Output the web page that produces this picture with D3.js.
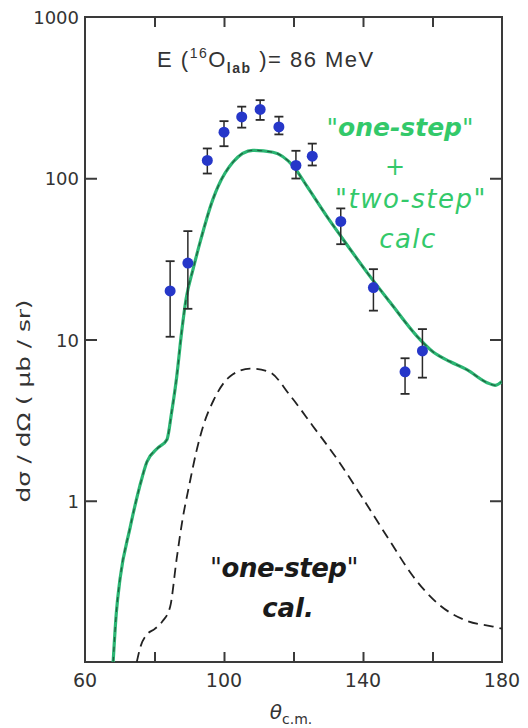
<!DOCTYPE html>
<html>
<head>
<meta charset="utf-8">
<script src="https://cdn.jsdelivr.net/npm/d3@7"></script>
<style>
  html, body { margin: 0; padding: 0; background: #fff; }
  svg { display: block; }
</style>
</head>
<body>
<svg id="chart" width="528" height="728"></svg>
<script>
// ---- data ----
const expTheta = [84.5, 89.6, 95.2, 100.0, 105.1, 110.4, 115.8, 120.7, 125.4, 133.6, 143.0, 152.1, 157.1];
const expSigma = [20, 29.8, 129, 193, 240, 267, 208, 120, 137, 54, 21, 6.3, 8.5];
const expErrLow = [10.4, 15.5, 107, 158, 206, 230, 187, 99.6, 120, 39, 15.1, 4.6, 5.8];
const expErrHigh = [30.6, 47, 153, 226, 278, 305, 241, 148, 164, 65, 27.3, 7.65, 11.6];

const totalTheta = [68.1, 69.0, 70.1, 72.9, 75.8, 77.8, 80.7, 83.6, 84.9, 86.4, 87.8, 89.1, 91.1, 93.1, 96.8, 98.3, 102.6, 108.3, 114.1, 119.9, 123.9, 129.6, 134.2, 141.2, 147.8, 155.5, 160.1, 165.0, 169.9, 175.7, 178.0, 180.0];
const totalSigma = [0.1, 0.2, 0.33, 0.67, 1.24, 1.74, 2.1, 2.4, 3.5, 5.9, 11.1, 17.9, 27.3, 40, 74, 89, 126, 149, 145, 119, 89, 58, 42, 26, 17, 10.5, 8.4, 7.3, 6.5, 5.4, 5.2, 5.5];

const oneTheta = [74.9, 76.0, 77.8, 80.0, 82.4, 84.5, 86.4, 88.0, 90.0, 92.0, 94.0, 97.0, 101.7, 107.5, 113.0, 119.0, 125.6, 132.5, 140.0, 147.8, 154.4, 162.2, 169.9, 177.4, 180.0];
const oneSigma = [0.1, 0.125, 0.148, 0.16, 0.18, 0.22, 0.44, 0.75, 1.25, 2.0, 2.9, 4.2, 5.9, 6.6, 6.3, 4.5, 2.9, 1.82, 1.03, 0.56, 0.34, 0.224, 0.18, 0.166, 0.161];

const xTicks = [60, 80, 100, 120, 140, 160, 180];
const xTickLabels = [60, 100, 140, 180];
const yTicks = [1, 10, 100, 1000];
const yTickLabels = ["1", "10", "100", "1000"];

// ---- layout ----
const svg = d3.select("#chart");
const L = 85, R = 502, T = 17, B = 662;
const x = d3.scaleLinear().domain([60, 180]).range([L, R]);
const y = d3.scaleLog().domain([0.1, 1000]).range([B, T]);

const axisColor = "#3a3a3a";
const green = "#2bb673";
const greenText = "#33c96a";
const sans = "DejaVu Sans, Verdana, sans-serif";

svg.append("defs").append("clipPath").attr("id", "plotclip")
  .append("rect").attr("x", L).attr("y", T).attr("width", R - L).attr("height", B - T);

// frame
svg.append("rect").attr("x", L).attr("y", T).attr("width", R - L).attr("height", B - T)
  .attr("fill", "none").attr("stroke", axisColor).attr("stroke-width", 2);

// axes with inward ticks
const innerX = xTicks.filter(d => d > 60 && d < 180);
const innerY = yTicks.filter(d => d > 0.1 && d < 1000);
const bottomAxis = d3.axisBottom(x).tickValues(innerX).tickSize(-10).tickFormat("");
const topAxis = d3.axisTop(x).tickValues(innerX).tickSize(-10).tickFormat("");
const leftAxis = d3.axisLeft(y).tickValues(innerY).tickSize(-12).tickFormat("");
const rightAxis = d3.axisRight(y).tickValues(innerY).tickSize(-12).tickFormat("");
[[bottomAxis, `translate(0,${B})`], [topAxis, `translate(0,${T})`], [leftAxis, `translate(${L},0)`], [rightAxis, `translate(${R},0)`]]
  .forEach(([ax, tr]) => {
    const g = svg.append("g").attr("transform", tr).call(ax);
    g.select(".domain").remove();
    g.selectAll(".tick line").attr("stroke", axisColor).attr("stroke-width", 2);
  });

// tick labels
svg.append("g").selectAll("text").data(xTickLabels).join("text")
  .attr("x", d => x(d)).attr("y", B + 25)
  .attr("text-anchor", "middle")
  .attr("font-family", sans).attr("font-size", 19).attr("fill", "#333")
  .text(d => d);
svg.append("g").selectAll("text").data(yTicks).join("text")
  .attr("x", L - 6).attr("y", d => y(d) + 7)
  .attr("text-anchor", "end")
  .attr("font-family", sans).attr("font-size", 18).attr("fill", "#333")
  .text((d, i) => yTickLabels[i]);

// axis titles
const xt = svg.append("text").attr("x", 291).attr("y", 719).attr("text-anchor", "middle")
  .attr("font-family", sans).attr("fill", "#333");
xt.append("tspan").attr("font-size", 20).attr("font-style", "italic").text("θ");
xt.append("tspan").attr("font-size", 14).attr("dy", 5).text("c.m.");

svg.append("text").attr("transform", "translate(30,401) rotate(-90)").attr("text-anchor", "middle")
  .attr("font-family", sans).attr("font-size", 18).attr("fill", "#333")
  .attr("textLength", 203).attr("lengthAdjust", "spacingAndGlyphs")
  .text("dσ / dΩ ( μb / sr)");

// curves
const plot = svg.append("g").attr("clip-path", "url(#plotclip)");
const line = d3.line().x(d => x(d[0])).y(d => y(d[1])).curve(d3.curveMonotoneX);
const totalPts = totalTheta.map((t, i) => [t, totalSigma[i]]);
const onePts = oneTheta.map((t, i) => [t, oneSigma[i]]);

plot.append("path").datum(totalPts).attr("d", line)
  .attr("fill", "none").attr("stroke", green).attr("stroke-width", 3.2);
plot.append("path").datum(totalPts).attr("d", line)
  .attr("fill", "none").attr("stroke", "#1d3a2a").attr("stroke-width", 1.2).attr("stroke-dasharray", "5,5").attr("opacity", 0.7);
plot.append("path").datum(onePts).attr("d", line)
  .attr("fill", "none").attr("stroke", "#222").attr("stroke-width", 1.8).attr("stroke-dasharray", "10,6");

// experimental points
const pts = plot.append("g");
expTheta.forEach((t, i) => {
  const cx = x(t);
  pts.append("line").attr("x1", cx).attr("x2", cx).attr("y1", y(expErrLow[i])).attr("y2", y(expErrHigh[i]))
    .attr("stroke", "#2a2a2a").attr("stroke-width", 1.5);
  [expErrLow[i], expErrHigh[i]].forEach(v => {
    pts.append("line").attr("x1", cx - 4.5).attr("x2", cx + 4.5).attr("y1", y(v)).attr("y2", y(v))
      .attr("stroke", "#2a2a2a").attr("stroke-width", 1.8);
  });
});
pts.selectAll("circle").data(expTheta).join("circle")
  .attr("cx", d => x(d)).attr("cy", (d, i) => y(expSigma[i])).attr("r", 5.5)
  .attr("fill", "#2637c9");

// annotations
const e = svg.append("text").attr("x", 157).attr("y", 67)
  .attr("font-family", "Liberation Sans, Arial, sans-serif").attr("font-size", 22).attr("fill", "#333")
  .attr("letter-spacing", 1.5);
e.append("tspan").text("E (");
e.append("tspan").attr("font-size", 14).attr("dy", -9).text("16");
e.append("tspan").attr("dy", 9).text("O");
e.append("tspan").attr("font-size", 14).attr("font-weight", "bold").attr("dy", 6).text("lab");
e.append("tspan").attr("dy", -6).text(" )= 86 MeV");

function quoted(xc, yb, word, color, weight, size, ls) {
  const t = svg.append("text").attr("x", xc).attr("y", yb).attr("text-anchor", "middle")
    .attr("font-family", sans).attr("font-size", size).attr("fill", color).attr("letter-spacing", ls);
  t.append("tspan").attr("font-weight", "normal").text("\"");
  t.append("tspan").attr("font-style", "italic").attr("font-weight", weight).text(word);
  t.append("tspan").attr("font-weight", "normal").text("\"");
  return t;
}
quoted(400, 136, "one-step", greenText, "bold", 25, 0);
svg.append("text").attr("x", 395).attr("y", 175).attr("text-anchor", "middle")
  .attr("font-family", sans).attr("font-size", 24).attr("fill", greenText).text("+");
quoted(411, 208, "two-step", greenText, "normal", 26, 1.5);
svg.append("text").attr("x", 408).attr("y", 248).attr("text-anchor", "middle")
  .attr("font-family", sans).attr("font-style", "italic").attr("font-size", 26).attr("letter-spacing", 1.5)
  .attr("fill", greenText).text("calc");

quoted(284, 577, "one-step", "#1a1a1a", "bold", 26, -0.5);
svg.append("text").attr("x", 288).attr("y", 617).attr("text-anchor", "middle")
  .attr("font-family", sans).attr("font-style", "italic").attr("font-weight", "bold").attr("font-size", 26)
  .attr("fill", "#1a1a1a").text("cal.");
</script>
</body>
</html>
